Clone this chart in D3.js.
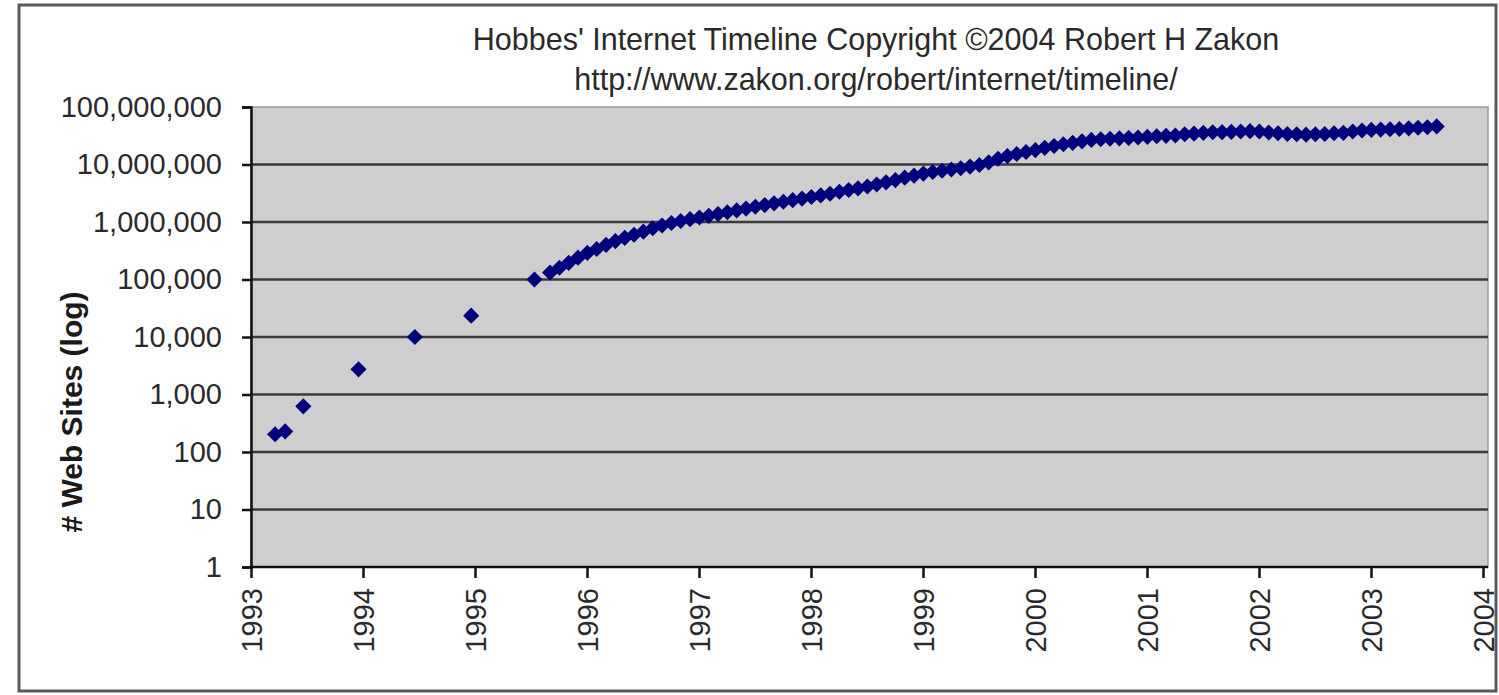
<!DOCTYPE html>
<html>
<head>
<meta charset="utf-8">
<script src="https://cdn.jsdelivr.net/npm/d3@7"></script>
<style>
  html, body { margin: 0; padding: 0; background: #ffffff; }
  svg { display: block; }
  text { font-family: "Liberation Sans", Arial, sans-serif; }
</style>
</head>
<body>
<svg id="chart" width="1499" height="695"></svg>
<script>
// Early survey points (position on the year axis, number of web sites)
const earlyYears = [1993.215, 1993.305, 1993.467, 1993.96, 1994.463, 1994.966, 1995.531];
const earlySites = [204, 228, 623, 2738, 10022, 23500, 100000];

// Monthly survey counts, first month plotted at monthlyStart on the year axis
const monthlyStart = 1995.67;
const monthlySites = [
  132000, 160000, 195000, 240000, 290000, 340000, 400000, 465000, 530000, 600000, 680000, 780000,
  870000, 960000, 1040000, 1120000, 1200000, 1280000, 1380000, 1480000, 1590000, 1710000, 1840000, 1970000,
  2110000, 2250000, 2400000, 2550000, 2720000, 2900000, 3100000, 3350000, 3600000, 3850000, 4150000, 4500000,
  4900000, 5350000, 5900000, 6400000, 6950000, 7400000, 7800000, 8200000, 8600000, 9200000, 9800000, 10900000,
  12600000, 14000000, 15200000, 16500000, 17800000, 19500000, 21000000, 22500000, 23800000, 25300000, 26800000, 27500000,
  28000000, 28500000, 29000000, 29500000, 30200000, 31000000, 31500000, 32000000, 33500000, 34500000, 35500000, 36300000,
  36500000, 37000000, 37500000, 38000000, 37500000, 36000000, 35000000, 34000000, 33500000, 33000000, 33500000, 34000000,
  35000000, 35500000, 37500000, 39000000, 40000000, 40500000, 41000000, 41500000, 42500000, 43500000, 44500000, 46000000
];

// Axis ticks
const yearTicks = [1993, 1994, 1995, 1996, 1997, 1998, 1999, 2000, 2001, 2002, 2003, 2004];
const siteTicks = [1, 10, 100, 1000, 10000, 100000, 1000000, 10000000, 100000000];

const titleLines = [
  "Hobbes' Internet Timeline Copyright \u00A92004 Robert H Zakon",
  "http://www.zakon.org/robert/internet/timeline/"
];
const yTitle = "# Web Sites (log)";

// Combined series
const points = earlyYears.map((yr, i) => ({ year: yr, sites: earlySites[i] }))
  .concat(monthlySites.map((v, i) => ({ year: monthlyStart + i / 12, sites: v })));

const svg = d3.select("#chart");

// Outer chart frame
svg.append("rect")
  .attr("x", 19).attr("y", 5)
  .attr("width", 1477).attr("height", 686)
  .attr("fill", "#ffffff")
  .attr("stroke", "#5a5a5a")
  .attr("stroke-width", 3);

const plot = { left: 251, right: 1488, top: 107, bottom: 567 };

const x = d3.scaleLinear().domain([1993, 2004]).range([plot.left, plot.left + 11 * 112]);
const y = d3.scaleLog().domain([1, 100000000]).range([plot.bottom, plot.top]);

// Plot area
svg.append("rect")
  .attr("x", plot.left).attr("y", plot.top)
  .attr("width", plot.right - plot.left).attr("height", plot.bottom - plot.top)
  .attr("fill", "#cecece")
  .attr("stroke", "#9a9a9a")
  .attr("stroke-width", 1.5);

// Horizontal gridlines
svg.append("g")
  .selectAll("line")
  .data(siteTicks.filter(d => d > 1 && d < 100000000))
  .join("line")
  .attr("x1", plot.left).attr("x2", plot.right)
  .attr("y1", d => y(d)).attr("y2", d => y(d))
  .attr("stroke", "#3a3a3a")
  .attr("stroke-width", 2.5);

// Y axis
const yAxis = svg.append("g")
  .attr("transform", `translate(${plot.left},0)`)
  .call(d3.axisLeft(y).tickValues(siteTicks).tickFormat(d3.format(",")).tickSize(9).tickPadding(20));
yAxis.select(".domain").attr("stroke", "#111").attr("stroke-width", 2.5);
yAxis.selectAll(".tick line").attr("stroke", "#111").attr("stroke-width", 2.5);
yAxis.selectAll(".tick text")
  .attr("font-size", 29)
  .attr("font-family", "Liberation Sans, Arial, sans-serif")
  .attr("fill", "#2a2a2a");

// X axis
const xAxis = svg.append("g")
  .attr("transform", `translate(0,${plot.bottom})`)
  .call(d3.axisBottom(x).tickValues(yearTicks).tickFormat(d3.format("d")).tickSize(11));
xAxis.select(".domain")
  .attr("d", `M${plot.left},0H${plot.right}`)
  .attr("stroke", "#111").attr("stroke-width", 2.5);
xAxis.selectAll(".tick line").attr("stroke", "#111").attr("stroke-width", 2.5);
xAxis.selectAll(".tick text")
  .attr("font-size", 29)
  .attr("font-family", "Liberation Sans, Arial, sans-serif")
  .attr("fill", "#2a2a2a")
  .attr("text-anchor", "end")
  .attr("transform", "rotate(-90)")
  .attr("x", -21)
  .attr("y", 0)
  .attr("dy", "0.35em");

// Markers: navy diamonds
const diamond = d3.symbol().type(d3.symbolSquare).size(130);
svg.append("g")
  .selectAll("path")
  .data(points)
  .join("path")
  .attr("d", diamond)
  .attr("transform", d => `translate(${x(d.year)},${y(d.sites)}) rotate(45)`)
  .attr("fill", "#00007f");

// Title
svg.append("g")
  .selectAll("text")
  .data(titleLines)
  .join("text")
  .attr("x", 876)
  .attr("y", (d, i) => 50 + i * 40)
  .attr("text-anchor", "middle")
  .attr("font-size", 30.5)
  .attr("fill", "#2a2a2a")
  .text(d => d);

// Y axis title
svg.append("text")
  .attr("transform", "translate(82,412) rotate(-90)")
  .attr("text-anchor", "middle")
  .attr("font-size", 30)
  .attr("font-weight", "bold")
  .attr("fill", "#1a1a1a")
  .text(yTitle);
</script>
</body>
</html>
